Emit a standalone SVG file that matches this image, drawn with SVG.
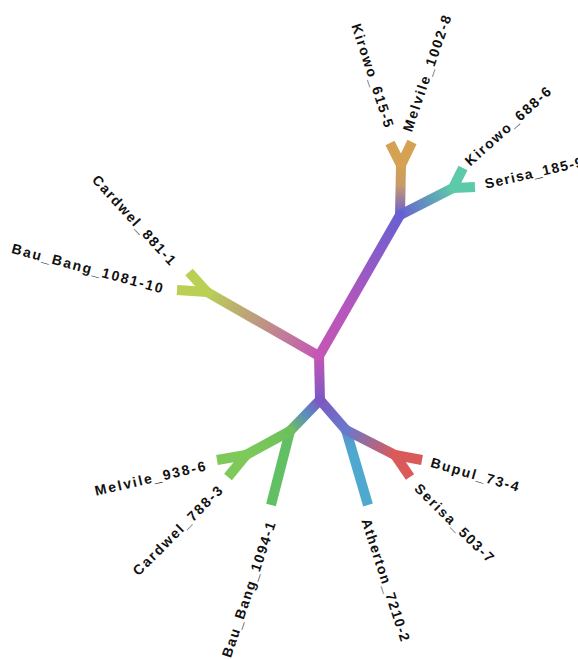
<svg xmlns="http://www.w3.org/2000/svg" width="578" height="660" viewBox="0 0 578 660">
  <style>
    .br { fill: none; stroke-width: 10; stroke-linecap: butt; }
    .lbl { font-family: "Liberation Sans", Arial, sans-serif; font-size: 14px; font-weight: bold; fill: #111; dominant-baseline: central; }
  </style>
  <defs>
    <!-- colour ramps along internal edges, parent to child -->
    <linearGradient id="g-AB" gradientUnits="userSpaceOnUse" x1="319" y1="356" x2="320" y2="400"><stop offset="0" stop-color="#c456b6"/><stop offset="1" stop-color="#7d58c2"/></linearGradient>
    <linearGradient id="g-AU" gradientUnits="userSpaceOnUse" x1="319" y1="356" x2="400" y2="215"><stop offset="0" stop-color="#c456b6"/><stop offset="0.35" stop-color="#b456bc"/><stop offset="1" stop-color="#6860d2"/></linearGradient>
    <linearGradient id="g-UO" gradientUnits="userSpaceOnUse" x1="400" y1="215" x2="401" y2="165"><stop offset="0" stop-color="#6860d2"/><stop offset="0.6" stop-color="#c89a6a"/><stop offset="1" stop-color="#d5a152"/></linearGradient>
    <linearGradient id="g-UT" gradientUnits="userSpaceOnUse" x1="400" y1="215" x2="453" y2="188"><stop offset="0" stop-color="#6860d2"/><stop offset="1" stop-color="#5ccaa8"/></linearGradient>
    <linearGradient id="g-AL" gradientUnits="userSpaceOnUse" x1="319" y1="356" x2="207" y2="292"><stop offset="0" stop-color="#c456b6"/><stop offset="1" stop-color="#b9d054"/></linearGradient>
    <linearGradient id="g-BC" gradientUnits="userSpaceOnUse" x1="320" y1="400" x2="290" y2="431"><stop offset="0" stop-color="#7d58c2"/><stop offset="0.45" stop-color="#5a8cc0"/><stop offset="1" stop-color="#6fc05c"/></linearGradient>
    <linearGradient id="g-CD" gradientUnits="userSpaceOnUse" x1="290" y1="431" x2="246" y2="455"><stop offset="0" stop-color="#6fc05c"/><stop offset="1" stop-color="#7dc95a"/></linearGradient>
    <linearGradient id="g-BE" gradientUnits="userSpaceOnUse" x1="320" y1="400" x2="346" y2="430"><stop offset="0" stop-color="#7d58c2"/><stop offset="1" stop-color="#6a78cc"/></linearGradient>
    <linearGradient id="g-ER" gradientUnits="userSpaceOnUse" x1="346" y1="430" x2="395" y2="455"><stop offset="0" stop-color="#6a78cc"/><stop offset="1" stop-color="#da5a5a"/></linearGradient>
    <linearGradient id="g-EA" gradientUnits="userSpaceOnUse" x1="346" y1="430" x2="368" y2="505"><stop offset="0" stop-color="#5a90d0"/><stop offset="0.3" stop-color="#4fa9cf"/><stop offset="1" stop-color="#4fa9cf"/></linearGradient>
  </defs>

  <g id="branches">
    <line class="br" stroke="url(#g-AB)" x1="319" y1="356" x2="320" y2="400"/>
    <line class="br" stroke="url(#g-AU)" x1="319" y1="356" x2="400" y2="215"/>
    <line class="br" stroke="url(#g-UO)" x1="400" y1="215" x2="401" y2="165"/>
    <line class="br" stroke="#d5a152" x1="401" y1="165" x2="390" y2="143"/>
    <line class="br" stroke="#d5a152" x1="401" y1="165" x2="412" y2="142"/>
    <line class="br" stroke="url(#g-UT)" x1="400" y1="215" x2="453" y2="188"/>
    <line class="br" stroke="#5ccaa8" x1="453" y1="188" x2="463" y2="168"/>
    <line class="br" stroke="#5ccaa8" x1="453" y1="188" x2="475" y2="187"/>
    <line class="br" stroke="url(#g-AL)" x1="319" y1="356" x2="207" y2="292"/>
    <line class="br" stroke="#b9d054" x1="207" y1="292" x2="189" y2="272"/>
    <line class="br" stroke="#b9d054" x1="207" y1="292" x2="177" y2="290"/>
    <line class="br" stroke="url(#g-BC)" x1="320" y1="400" x2="290" y2="431"/>
    <line class="br" stroke="#62c064" x1="290" y1="431" x2="271" y2="505"/>
    <line class="br" stroke="url(#g-CD)" x1="290" y1="431" x2="246" y2="455"/>
    <line class="br" stroke="#7dc95a" x1="246" y1="455" x2="217" y2="460"/>
    <line class="br" stroke="#7dc95a" x1="246" y1="455" x2="228" y2="477"/>
    <line class="br" stroke="url(#g-BE)" x1="320" y1="400" x2="346" y2="430"/>
    <line class="br" stroke="url(#g-EA)" x1="346" y1="430" x2="368" y2="505"/>
    <line class="br" stroke="url(#g-ER)" x1="346" y1="430" x2="395" y2="455"/>
    <line class="br" stroke="#da5a5a" x1="395" y1="455" x2="422" y2="460"/>
    <line class="br" stroke="#da5a5a" x1="395" y1="455" x2="410" y2="477"/>
  </g>

  <!-- internal nodes: round joints -->
  <g id="node-A"><circle cx="319" cy="356" r="5" fill="#c456b6"/></g>
  <g id="node-B"><circle cx="320" cy="400" r="5" fill="#7d58c2"/></g>
  <g id="node-U"><circle cx="400" cy="215" r="5" fill="#6860d2"/></g>
  <g id="node-O"><circle cx="401" cy="165" r="5" fill="#d5a152"/></g>
  <g id="node-T"><circle cx="453" cy="188" r="5" fill="#5ccaa8"/></g>
  <g id="node-L"><circle cx="207" cy="292" r="5" fill="#b9d054"/></g>
  <g id="node-C"><circle cx="290" cy="431" r="5" fill="#6fc05c"/></g>
  <g id="node-D"><circle cx="246" cy="455" r="5" fill="#7dc95a"/></g>
  <g id="node-E"><circle cx="346" cy="430" r="5" fill="#6a78cc"/></g>
  <g id="node-R"><circle cx="395" cy="455" r="5" fill="#da5a5a"/></g>

  <!-- tip labels -->
  <g id="tip-Kirowo_615-5"><text class="lbl" transform="translate(356,24) rotate(72)" textLength="108" lengthAdjust="spacing">Kirowo_615-5</text></g>
  <g id="tip-Melvile_1002-8"><text class="lbl" transform="translate(407,131) rotate(-71)" textLength="122" lengthAdjust="spacing">Melvile_1002-8</text></g>
  <g id="tip-Kirowo_688-6"><text class="lbl" transform="translate(467,163) rotate(-42)" textLength="110" lengthAdjust="spacing">Kirowo_688-6</text></g>
  <g id="tip-Serisa_185-9"><text class="lbl" transform="translate(485,184) rotate(-13)" textLength="100" lengthAdjust="spacing">Serisa_185-9</text></g>
  <g id="tip-Cardwel_881-1"><text class="lbl" transform="translate(95,177) rotate(47.5)" textLength="116" lengthAdjust="spacing">Cardwel_881-1</text></g>
  <g id="tip-Bau_Bang_1081-10"><text class="lbl" transform="translate(12,248) rotate(15)" textLength="156" lengthAdjust="spacing">Bau_Bang_1081-10</text></g>
  <g id="tip-Melvile_938-6"><text class="lbl" transform="translate(95,491) rotate(-13)" textLength="113" lengthAdjust="spacing">Melvile_938-6</text></g>
  <g id="tip-Cardwel_788-3"><text class="lbl" transform="translate(135,573) rotate(-45)" textLength="120" lengthAdjust="spacing">Cardwel_788-3</text></g>
  <g id="tip-Bau_Bang_1094-1"><text class="lbl" transform="translate(226,657) rotate(-71.5)" textLength="142" lengthAdjust="spacing">Bau_Bang_1094-1</text></g>
  <g id="tip-Bupul_73-4"><text class="lbl" transform="translate(431,462) rotate(15.8)" textLength="91" lengthAdjust="spacing">Bupul_73-4</text></g>
  <g id="tip-Serisa_503-7"><text class="lbl" transform="translate(417,486) rotate(44.6)" textLength="105" lengthAdjust="spacing">Serisa_503-7</text></g>
  <g id="tip-Atherton_7210-2"><text class="lbl" transform="translate(366,519) rotate(72)" textLength="128" lengthAdjust="spacing">Atherton_7210-2</text></g>
</svg>
